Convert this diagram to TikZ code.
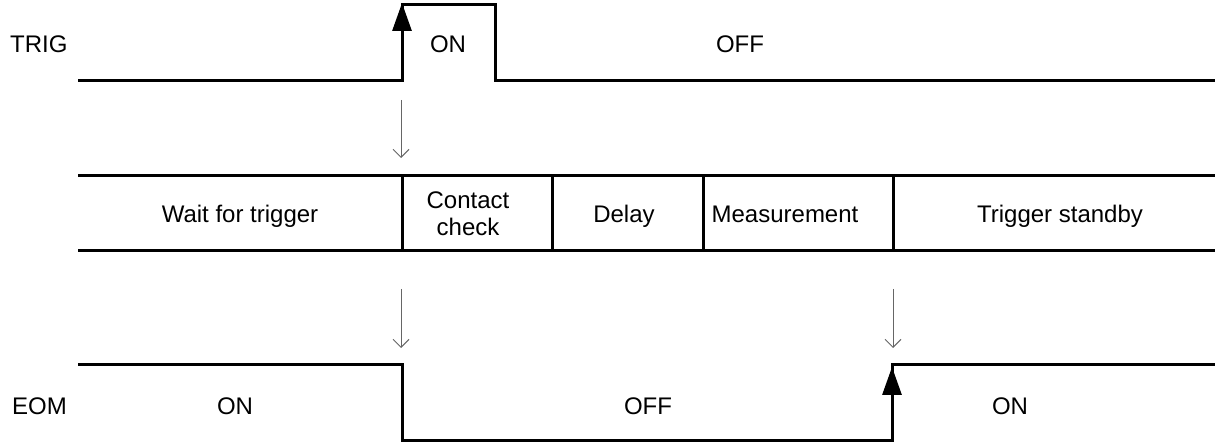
\documentclass[tikz,border=0pt]{standalone}
\usepackage{fontspec}
\setmainfont{Liberation Sans}
\usetikzlibrary{
  arrows.meta,
  positioning
}
\tikzset{
  chart/.style={ font=\fontsize{24}{27}\selectfont, x=1pt, y=-1pt },
  signal/.style={
    line width=3pt,
    draw=black,
    line join=miter
  },
  edgearrow/.style={
    -{Triangle[length=28pt,width=19pt]},
    line width=3pt,
    draw=black
  },
  flow/.style={
    -{Straight Barb[length=8pt,width=16pt]},
    line width=1pt,
    draw=black!60
  },
  label/.style={ inner sep=0pt, anchor=west },
  stage/.style={ inner sep=0pt, align=center, anchor=base }
}

\begin{document}
\begin{tikzpicture}[chart]
  \useasboundingbox (0,0) rectangle (1216,443);

  % TRIG waveform
  \coordinate (t0) at (78,81);
  \coordinate (t1) at (402,81);
  \coordinate (t2) at (402,5);
  \coordinate (t3) at (495,5);
  \coordinate (t4) at (495,81);
  \coordinate (t5) at (1215,81);
  \draw[signal] (t0) -- (t1) -- (t2) -- (t3) -- (t4) -- (t5);
  \draw[edgearrow] (t1) -- ([yshift=2pt]t2);
  \node[label] (trig) at (10,44) {TRIG};
  \node (trigon) at (448,44) {ON};
  \node (trigoff) at (740,44) {OFF};

  % stage band
  \coordinate (bl) at (78,176);
  \coordinate (br) at (1215,176);
  \coordinate (cl) at (78,251);
  \coordinate (cr) at (1215,251);
  \draw[signal] (bl) -- (br);
  \draw[signal] (cl) -- (cr);
  \foreach \x in {402,552,703,893}
    \draw[signal] (\x,176) -- (\x,251);
  \node[stage] (wait) at (240,223) {Wait for trigger};
  \node[stage, anchor=center] (contact) at (468,214) {Contact\\check};
  \node[stage] (delay) at (624,223) {Delay};
  \node[stage] (meas) at (785,223) {Measurement};
  \node[stage] (standby) at (1060,223) {Trigger standby};

  % EOM waveform
  \coordinate (e0) at (78,365);
  \coordinate (e1) at (402,365);
  \coordinate (e2) at (402,441);
  \coordinate (e3) at (892,441);
  \coordinate (e4) at (892,365);
  \coordinate (e5) at (1215,365);
  \draw[signal] (e0) -- (e1) -- (e2) -- (e3) -- (e4) -- (e5);
  \draw[edgearrow] (e3) -- ([yshift=-2pt]e4);
  \node[label] (eom) at (12,406) {EOM};
  \node (eomon) at (235,406) {ON};
  \node (eomoff) at (648,406) {OFF};
  \node (eomon2) at (1010,406) {ON};

  % sequence arrows
  \coordinate (a1) at (401,100);
  \coordinate (a2) at (401,158);
  \coordinate (b1) at (401,289);
  \coordinate (b2) at (401,348);
  \coordinate (c1) at (893,289);
  \coordinate (c2) at (893,348);
  \draw[flow] (a1) -- (a2);
  \draw[flow] (b1) -- (b2);
  \draw[flow] (c1) -- (c2);
\end{tikzpicture}
\end{document}
